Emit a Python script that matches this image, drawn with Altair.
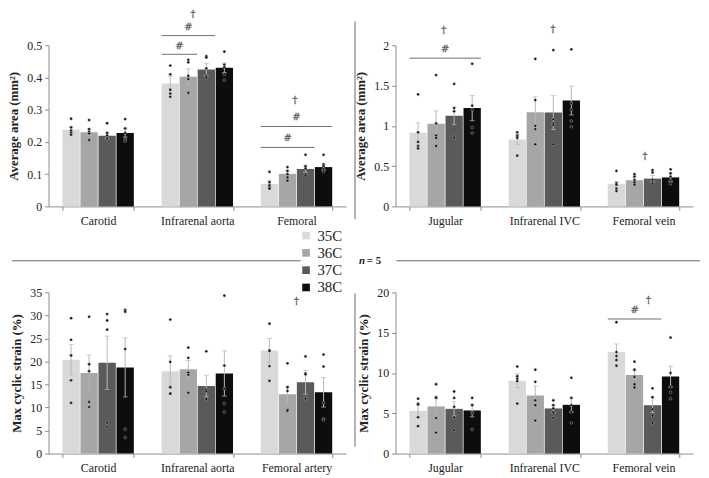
import altair as alt
import pandas as pd

temps = ["35C", "36C", "37C", "38C"]
shades = ["#d9d9d9", "#a6a6a6", "#5a5a5a", "#0d0d0d"]

# average area, arteries (mm2)
art_sites = ["Carotid", "Infrarenal aorta", "Femoral"]
art_area_mean = [[0.238, 0.230, 0.219, 0.228], [0.381, 0.402, 0.425, 0.430], [0.070, 0.101, 0.116, 0.122]]
art_area_se = [[0.010, 0.010, 0.009, 0.013], [0.023, 0.025, 0.019, 0.015], [0.010, 0.010, 0.010, 0.009]]
art_area_pts = [
    [[0.272, 0.245, 0.235, 0.228, 0.222], [0.268, 0.240, 0.232, 0.226, 0.206],
     [0.258, 0.228, 0.220, 0.212, 0.210], [0.271, 0.242, 0.228, 0.208, 0.203]],
    [[0.437, 0.410, 0.362, 0.350, 0.340], [0.455, 0.447, 0.405, 0.395, 0.352],
     [0.466, 0.462, 0.428, 0.405, 0.400], [0.480, 0.440, 0.432, 0.410, 0.392]],
    [[0.107, 0.075, 0.065, 0.058, 0.055], [0.122, 0.110, 0.100, 0.090, 0.080],
     [0.160, 0.125, 0.118, 0.100, 0.095], [0.160, 0.130, 0.125, 0.115, 0.108]],
]
art_area_ticks = [0, 0.1, 0.2, 0.3, 0.4, 0.5]
# (site, y, band start, band end) and (site, band pos, y, symbol)
art_area_lines = [("Infrarenal aorta", 0.472, 0, 0.5), ("Infrarenal aorta", 0.530, 0, 0.75),
                  ("Femoral", 0.183, 0, 0.75), ("Femoral", 0.248, 0, 1.0)]
art_area_marks = [("Infrarenal aorta", 0.25, 0.497, "#"), ("Infrarenal aorta", 0.375, 0.557, "#"),
                  ("Infrarenal aorta", 0.44, 0.596, "†"), ("Femoral", 0.375, 0.211, "#"),
                  ("Femoral", 0.5, 0.276, "#"), ("Femoral", 0.48, 0.329, "†")]

# average area, veins (mm2)
vein_sites = ["Jugular", "Infrarenal IVC", "Femoral vein"]
vein_area_mean = [[0.915, 1.025, 1.125, 1.22], [0.83, 1.17, 1.165, 1.315], [0.28, 0.325, 0.345, 0.36]]
vein_area_se = [[0.12, 0.16, 0.11, 0.156], [0.06, 0.19, 0.21, 0.18], [0.03, 0.04, 0.04, 0.05]]
vein_area_pts = [
    [[1.39, 0.92, 0.80, 0.75, 0.72], [1.63, 1.03, 0.88, 0.85, 0.75],
     [1.52, 1.22, 1.18, 0.87, 0.85], [1.77, 1.25, 1.20, 0.98, 0.91]],
    [[0.92, 0.88, 0.87, 0.85, 0.63], [1.83, 1.32, 1.00, 0.96, 0.77],
     [1.94, 1.08, 1.03, 1.01, 0.77], [1.95, 1.28, 1.20, 1.06, 0.99]],
    [[0.44, 0.29, 0.27, 0.22, 0.19], [0.40, 0.37, 0.33, 0.30, 0.27],
     [0.45, 0.42, 0.33, 0.30, 0.28], [0.46, 0.41, 0.37, 0.32, 0.28]],
]
vein_area_ticks = [0, 0.5, 1, 1.5, 2]
vein_area_lines = [("Jugular", 1.84, 0, 1.0)]
vein_area_marks = [("Jugular", 0.5, 1.95, "#"), ("Jugular", 0.48, 2.19, "†"),
                   ("Infrarenal IVC", 0.62, 2.2, "†"), ("Femoral vein", 0.52, 0.63, "†")]

# max cyclic strain, arteries (%)
art_strain_sites = ["Carotid", "Infrarenal aorta", "Femoral artery"]
art_strain_mean = [[20.4, 17.5, 19.7, 18.7], [17.9, 18.3, 14.7, 17.4], [22.4, 12.9, 15.5, 13.3]]
art_strain_se = [[3.3, 3.9, 5.8, 6.4], [3.3, 1.9, 2.3, 4.9], [2.6, 1.8, 2.6, 3.2]]
art_strain_pts = [
    [[29.4, 24.7, 21.3, 15.9, 11.0], [29.7, 19.4, 17.9, 11.2, 10.1],
     [30.3, 28.9, 26.9, 6.7, 5.8], [31.2, 30.8, 22.7, 5.3, 3.5]],
    [[29.1, 19.9, 14.4, 13.0, 13.0], [23.0, 20.8, 17.6, 17.1, 13.2],
     [22.2, 13.9, 13.5, 12.0, 11.8], [34.3, 19.1, 14.1, 10.9, 9.0]],
    [[28.2, 22.4, 22.3, 19.0, 15.8], [19.6, 14.4, 13.6, 9.5, 9.3],
     [21.1, 17.4, 17.2, 12.0, 11.9], [21.5, 18.9, 11.0, 7.5, 7.3]],
]
art_strain_ticks = [0, 5, 10, 15, 20, 25, 30, 35]
art_strain_marks = [("Femoral artery", 0.5, 33.2, "†")]

# max cyclic strain, veins (%)
vein_strain_mean = [[5.3, 5.85, 5.55, 5.35], [9.05, 7.2, 5.6, 6.05], [12.6, 9.75, 6.0, 9.55]]
vein_strain_se = [[0.7, 1.0, 0.9, 0.8], [0.85, 1.2, 0.5, 0.9], [1.0, 0.6, 0.9, 1.3]]
vein_strain_pts = [
    [[6.8, 6.2, 6.1, 4.5, 3.4], [8.6, 7.0, 6.9, 4.4, 2.6],
     [7.7, 6.9, 5.8, 4.5, 2.9], [6.9, 6.0, 5.1, 5.0, 3.0]],
    [[10.8, 9.6, 9.3, 9.0, 6.2], [10.4, 8.9, 6.6, 6.0, 4.1],
     [6.6, 6.0, 5.6, 5.1, 4.4], [9.4, 6.9, 6.0, 5.2, 3.8]],
    [[16.3, 12.6, 12.1, 11.6, 10.9], [11.4, 10.4, 9.5, 8.6, 8.2],
     [8.1, 7.0, 5.5, 4.7, 3.8], [14.4, 10.0, 8.3, 7.6, 6.8]],
]
vein_strain_ticks = [0, 5, 10, 15, 20]
vein_strain_lines = [("Femoral vein", 16.7, 0, 0.75)]
vein_strain_marks = [("Femoral vein", 0.375, 17.8, "#"), ("Femoral vein", 0.57, 19.0, "†")]

W, H = 301, 163
FONT = "Liberation Serif"

legend = alt.Legend(title=None, orient="none", legendX=253, legendY=185,
                    symbolType="square", symbolSize=60, symbolStrokeWidth=0,
                    labelFontSize=15, labelFont=FONT, labelColor="#222",
                    rowPadding=1.5, labelOffset=4)


def long_bars(sites, means, ses):
    rows = []
    for i, s in enumerate(sites):
        for j, t in enumerate(temps):
            m, e = means[i][j], ses[i][j]
            rows.append({"site": s, "temp": t, "mean": m, "lo": m - e, "hi": m + e})
    return pd.DataFrame(rows)


def long_pts(sites, pts):
    rows = []
    for i, s in enumerate(sites):
        for j, t in enumerate(temps):
            for v in pts[i][j]:
                rows.append({"site": s, "temp": t, "val": v})
    return pd.DataFrame(rows)


def panel(sites, means, ses, pts, ytitle, ticks, lines=(), marks=()):
    bars_df = long_bars(sites, means, ses)
    xsc = alt.Scale(domain=sites, paddingInner=0.28, paddingOuter=0.14)
    xo = alt.XOffset("temp:N", scale=alt.Scale(domain=temps, paddingInner=0.04))
    ysc = alt.Scale(domain=[ticks[0], ticks[-1]], nice=False)
    yax = alt.Axis(values=ticks, format="~g")

    def x(bp=None):
        if bp is None:
            return alt.X("site:N", scale=xsc, title=None)
        return alt.X("site:N", scale=xsc, title=None, bandPosition=bp)

    def y(f):
        return alt.Y(f, scale=ysc, axis=yax, title=ytitle)

    bars = alt.Chart(bars_df).mark_bar().encode(
        x=x(), xOffset=xo, y=y("mean:Q"),
        color=alt.Color("temp:N", scale=alt.Scale(domain=temps, range=shades), legend=legend),
    )
    err = alt.Chart(bars_df).mark_rule(color="#b8b8b8", strokeWidth=1).encode(
        x=x(), xOffset=xo, y=y("lo:Q"), y2="hi:Q")
    caps = alt.Chart(bars_df).transform_fold(["lo", "hi"], as_=["end", "v"]).mark_tick(
        color="#b8b8b8", size=5, thickness=1).encode(x=x(), xOffset=xo, y=y("v:Q"))
    dots = alt.Chart(long_pts(sites, pts)).mark_circle(
        size=8, color="#111", opacity=1, stroke="#d0d0d0", strokeWidth=0.4).encode(
        x=x(), xOffset=xo, y=y("val:Q"))
    layers = [bars, err, caps, dots]
    for s, yv, b0, b1 in lines:
        df = pd.DataFrame({"site": [s], "y": [yv]})
        layers.append(alt.Chart(df).mark_rule(color="#6e6e6e", strokeWidth=1).encode(
            x=x(b0), x2=alt.X2("site", bandPosition=b1), y=y("y:Q")))
    for s, bp, yv, sym in marks:
        df = pd.DataFrame({"site": [s], "y": [yv], "sym": [sym]})
        layers.append(alt.Chart(df).mark_text(font="DejaVu Serif", fontSize=10, baseline="middle",
                                              stroke="#666", strokeWidth=0.3).encode(
            x=x(bp), y=y("y:Q"), text="sym:N", color=alt.value("#555")))
    return layers


one = pd.DataFrame({"k": [0]})


def hrule(x0, x1, yv):
    return alt.Chart(one).mark_rule(color="#666", strokeWidth=1).encode(
        x=alt.value(x0), x2=alt.value(x1), y=alt.value(yv))


def vrule(xv, y0, y1):
    return alt.Chart(one).mark_rule(color="#666", strokeWidth=1).encode(
        x=alt.value(xv), y=alt.value(y0), y2=alt.value(y1))


n_italic = alt.Chart(one).mark_text(text="n", font=FONT, fontSize=11, fontWeight="bold",
                                    fontStyle="italic", align="left", baseline="middle",
                                    color="#222").encode(x=alt.value(-37), y=alt.value(218))
n_rest = alt.Chart(one).mark_text(text="= 5", font=FONT, fontSize=11, fontWeight="bold",
                                  align="left", baseline="middle",
                                  color="#222").encode(x=alt.value(-29), y=alt.value(218))

tl = alt.layer(*panel(art_sites, art_area_mean, art_area_se, art_area_pts,
                      "Average area (mm²)", art_area_ticks, art_area_lines, art_area_marks),
               hrule(-37, 255, 218)).properties(width=W, height=H)
tr = alt.layer(*panel(vein_sites, vein_area_mean, vein_area_se, vein_area_pts,
                      "Average area (mm²)", vein_area_ticks, vein_area_lines, vein_area_marks),
               hrule(1, 308, 218), vrule(-41, -24, 176), n_italic, n_rest).properties(width=W, height=H)
bl = alt.layer(*panel(art_strain_sites, art_strain_mean, art_strain_se, art_strain_pts,
                      "Max cyclic strain (%)", art_strain_ticks, (), art_strain_marks)
               ).properties(width=W, height=H)
br = alt.layer(*panel(vein_sites, vein_strain_mean, vein_strain_se, vein_strain_pts,
                      "Max cyclic strain (%)", vein_strain_ticks, vein_strain_lines, vein_strain_marks),
               vrule(-41, 1, 156)).properties(width=W, height=H)

chart = alt.concat(tl, tr, bl, br, columns=2, spacing={"row": 87, "column": 50},
                   bounds="flush").properties(
    padding={"top": -2, "left": 0, "right": 0, "bottom": 0}
).configure_view(stroke=None).configure_axis(
    labelFont=FONT, labelFontSize=12, labelColor="#222",
    titleFont=FONT, titleFontSize=13, titleFontWeight="bold", titleColor="#222",
    domainColor="#8c8c8c", tickColor="#8c8c8c", tickSize=4, grid=False,
    labelPadding=3, titlePadding=6,
).configure_axisX(tickBand="extent", labelAngle=0, labelPadding=5)

chart.save("out.html", embed_options={"renderer": "svg", "actions": False})
